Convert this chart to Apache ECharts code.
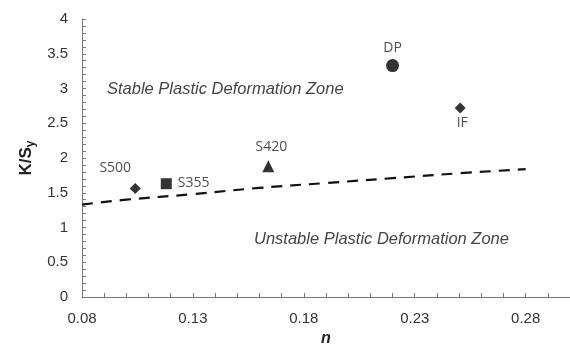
<!DOCTYPE html>
<html>
<head>
<meta charset="utf-8">
<script src="https://cdn.jsdelivr.net/npm/echarts@6/dist/echarts.min.js"></script>
<style>
  html, body { margin: 0; padding: 0; background: #fff; }
  #chart { width: 570px; height: 353px; }
</style>
</head>
<body>
<div id="chart"></div>
<script>
// steels: n value, K/Sy
var pointNames = ["S500", "S355", "S420", "DP", "IF"];
var pointN = [0.104, 0.118, 0.164, 0.220, 0.2505];
var pointK = [1.56, 1.63, 1.88, 3.33, 2.72];
var pointSymbols = ["diamond", "rect", "triangle", "circle", "diamond"];
var pointSizes = [11, 11, 12, 13, 11];
var labelPos = ["top", "right", "top", "top", "bottom"];

// stability boundary (dashed)
var boundaryN = [0.08, 0.10, 0.13, 0.16, 0.19, 0.22, 0.25, 0.28];
var boundaryK = [1.33, 1.40, 1.48, 1.57, 1.64, 1.71, 1.78, 1.84];

var myChart = echarts.init(document.getElementById("chart"));

var pts = pointNames.map(function (nm, i) {
  return {
    name: nm,
    value: [pointN[i], pointK[i]],
    symbol: pointSymbols[i],
    symbolSize: pointSizes[i],
    label: { position: labelPos[i] }
  };
});
// S500 label sits up-left of its marker
pts[0].label.offset = [-20, -2];
pts[1].label.offset = [0, -1];
pts[2].label.offset = [3, 0];
pts[3].label.offset = [0, 2];
pts[4].label.offset = [2, -3];

var option = {
  animation: false,
  grid: { left: 82, top: 19, right: -7, bottom: 56 },
  xAxis: {
    type: "value",
    min: 0.08,
    max: 0.3,
    interval: 0.05,
    name: "n",
    nameLocation: "middle",
    nameGap: 32,
    nameTextStyle: { fontFamily: "Liberation Sans", fontSize: 16, fontWeight: "bold", fontStyle: "italic", color: "#222" },
    axisLine: { lineStyle: { color: "#777", width: 1 } },
    axisTick: { inside: true, length: 4, lineStyle: { color: "#777" } },
    minorTick: { show: true, splitNumber: 5, length: 4, lineStyle: { color: "#777" } },
    splitLine: { show: false },
    axisLabel: {
      showMaxLabel: false,
      margin: 14,
      fontFamily: "Liberation Sans",
      fontSize: 15,
      color: "#333",
      formatter: function (v) { return v.toFixed(2); }
    }
  },
  yAxis: {
    type: "value",
    min: 0,
    max: 4,
    interval: 0.5,
    name: "{a|K/S}{b|y}",
    nameLocation: "middle",
    nameGap: 42,
    nameTextStyle: {
      rich: {
        a: { fontFamily: "Liberation Sans", fontSize: 17, fontWeight: "bold", color: "#222" },
        b: { fontFamily: "Liberation Sans", fontSize: 12, fontWeight: "bold", color: "#222", padding: [8, 0, 0, 0] }
      }
    },
    axisLine: { show: true, lineStyle: { color: "#777", width: 1 } },
    axisTick: { show: true, inside: true, length: 4, lineStyle: { color: "#777" } },
    minorTick: { show: true, splitNumber: 5, length: 4, lineStyle: { color: "#777" } },
    splitLine: { show: false },
    axisLabel: {
      margin: 14,
      fontFamily: "Liberation Sans",
      fontSize: 15,
      color: "#333"
    }
  },
  graphic: [
    {
      type: "text", left: 107, top: 81,
      style: { text: "Stable Plastic Deformation Zone", font: "italic 16.5px 'Liberation Sans'", fill: "#444" }
    },
    {
      type: "text", left: 254, top: 231,
      style: { text: "Unstable Plastic Deformation Zone", font: "italic 16.5px 'Liberation Sans'", fill: "#444" }
    }
  ],
  series: [
    {
      type: "line",
      data: boundaryN.map(function (n, i) { return [n, boundaryK[i]]; }),
      smooth: true,
      showSymbol: false,
      lineStyle: { color: "#111", width: 2.2, type: [11, 8] },
      z: 2
    },
    {
      type: "scatter",
      data: pts,
      itemStyle: { color: "#000" },
      label: {
        show: true,
        formatter: "{b}",
        distance: 6,
        fontFamily: "Open Sans",
        fontSize: 14,
        color: "#222"
      },
      z: 3
    }
  ]
};
myChart.setOption(option);
</script>
</body>
</html>
